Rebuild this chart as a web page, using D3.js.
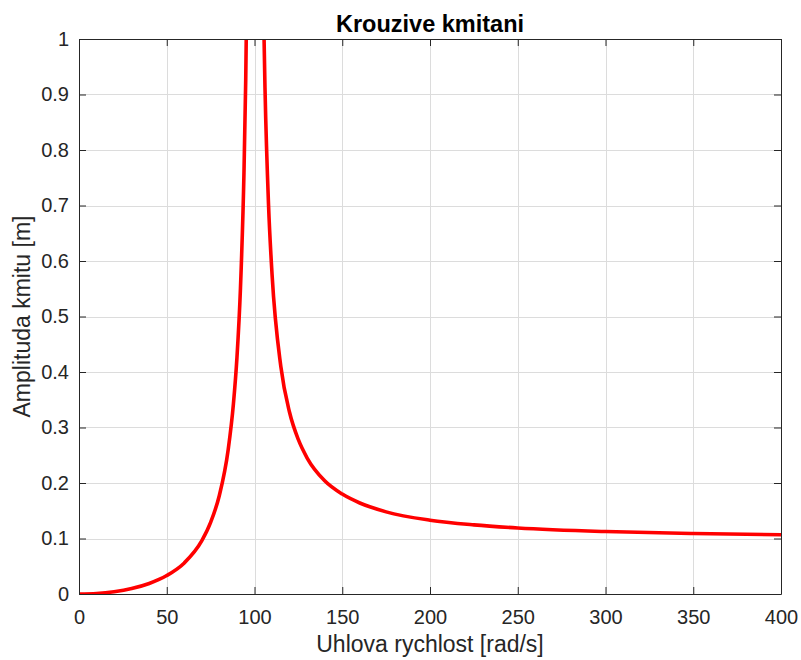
<!DOCTYPE html>
<html>
<head>
<meta charset="utf-8">
<script src="https://cdn.jsdelivr.net/npm/d3@7"></script>
<style>
  html, body { margin: 0; padding: 0; background: #fff; }
  svg { display: block; }
  text { font-family: "Liberation Sans", Arial, Helvetica, sans-serif; }
</style>
</head>
<body>
<svg id="chart" width="801" height="660"></svg>
<script>
// Angular speed [rad/s] and amplitude [m], branch below resonance
const omegaLow = [0, 10, 20, 30, 40, 50, 60, 70, 75, 80, 85, 88, 90, 92, 94, 95, 96];
const ampLow   = [0, 0.001, 0.0042, 0.0099, 0.019, 0.0333, 0.056, 0.096, 0.129, 0.178, 0.26, 0.343, 0.426, 0.551, 0.759, 0.926, 1.18];

// Branch above resonance
const omegaHigh = [104, 105, 106, 108, 110, 115, 120, 125, 130, 140, 150, 160, 175, 200, 225, 250, 300, 350, 400];
const ampHigh   = [1.33, 1.076, 0.909, 0.701, 0.576, 0.41, 0.327, 0.278, 0.245, 0.204, 0.18, 0.164, 0.148, 0.133, 0.1246, 0.119, 0.1125, 0.1089, 0.1067];

const xTicks = [0, 50, 100, 150, 200, 250, 300, 350, 400];
const yTicks = [0, 0.1, 0.2, 0.3, 0.4, 0.5, 0.6, 0.7, 0.8, 0.9, 1];

const titleText = "Krouzive kmitani";
const xLabel = "Uhlova rychlost [rad/s]";
const yLabel = "Amplituda kmitu [m]";

(function draw() {
  const svg = d3.select("#chart");
  const pL = 79, pR = 781, pT = 39, pB = 594;
  const W = pR - pL, H = pB - pT;

  const x = d3.scaleLinear().domain([0, 400]).range([pL, pR]);
  const y = d3.scaleLinear().domain([0, 1]).range([pB, pT]);

  const axisColor = "#262626";
  const tickLen = 7;

  // grid
  const grid = svg.append("g");
  grid.selectAll("line.gx").data(xTicks).join("line")
    .attr("x1", d => Math.round(x(d)) + 0.5).attr("x2", d => Math.round(x(d)) + 0.5)
    .attr("y1", pT).attr("y2", pB)
    .attr("stroke", "#dcdcdc").attr("stroke-width", 1);
  grid.selectAll("line.gy").data(yTicks).join("line")
    .attr("y1", d => Math.round(y(d)) + 0.5).attr("y2", d => Math.round(y(d)) + 0.5)
    .attr("x1", pL).attr("x2", pR)
    .attr("stroke", "#dcdcdc").attr("stroke-width", 1);

  // curve
  svg.append("defs").append("clipPath").attr("id", "plotClip")
    .append("rect").attr("x", pL).attr("y", pT).attr("width", W).attr("height", H);

  const line = d3.line().x(d => x(d[0])).y(d => y(d[1])).curve(d3.curveMonotoneX);
  const curves = svg.append("g").attr("clip-path", "url(#plotClip)");
  [[omegaLow, ampLow], [omegaHigh, ampHigh]].forEach(([xs, ys]) => {
    curves.append("path")
      .attr("d", line(xs.map((v, i) => [v, ys[i]])))
      .attr("fill", "none").attr("stroke", "#ff0000")
      .attr("stroke-width", 3.6).attr("stroke-linejoin", "round");
  });

  // axes: bottom/left with labels, top/right mirrored ticks, all inward
  const fmtY = d => d3.format("~g")(d);
  const axB = d3.axisBottom(x).tickValues(xTicks).tickSizeInner(-tickLen).tickSizeOuter(0).tickPadding(16);
  const axT = d3.axisTop(x).tickValues(xTicks).tickSizeInner(-tickLen).tickSizeOuter(0).tickFormat("");
  const axL = d3.axisLeft(y).tickValues(yTicks).tickSizeInner(-tickLen).tickSizeOuter(0).tickPadding(10).tickFormat(fmtY);
  const axR = d3.axisRight(y).tickValues(yTicks).tickSizeInner(-tickLen).tickSizeOuter(0).tickFormat("");

  function styleAxis(g) {
    g.select(".domain").attr("stroke", axisColor).attr("stroke-width", 1);
    g.selectAll(".tick line").attr("stroke", axisColor).attr("stroke-width", 1);
    g.selectAll(".tick text").attr("fill", axisColor).attr("font-size", 20)
      .attr("font-family", "Liberation Sans, Arial, sans-serif");
  }
  svg.append("g").attr("transform", `translate(0,${pB})`).call(axB).call(styleAxis);
  svg.append("g").attr("transform", `translate(0,${pT})`).call(axT).call(styleAxis);
  svg.append("g").attr("transform", `translate(${pL},0)`).call(axL).call(styleAxis);
  svg.append("g").attr("transform", `translate(${pR},0)`).call(axR).call(styleAxis);

  // labels
  svg.append("text").attr("x", (pL + pR) / 2).attr("y", 31.5)
    .attr("text-anchor", "middle").attr("font-size", 23.5).attr("font-weight", "bold")
    .attr("fill", "#000").text(titleText);
  svg.append("text").attr("x", (pL + pR) / 2).attr("y", 652)
    .attr("text-anchor", "middle").attr("font-size", 23)
    .attr("fill", axisColor).text(xLabel);
  svg.append("text")
    .attr("transform", `translate(30,${(pT + pB) / 2}) rotate(-90)`)
    .attr("text-anchor", "middle").attr("font-size", 23)
    .attr("fill", axisColor).text(yLabel);
})();
</script>
</body>
</html>
